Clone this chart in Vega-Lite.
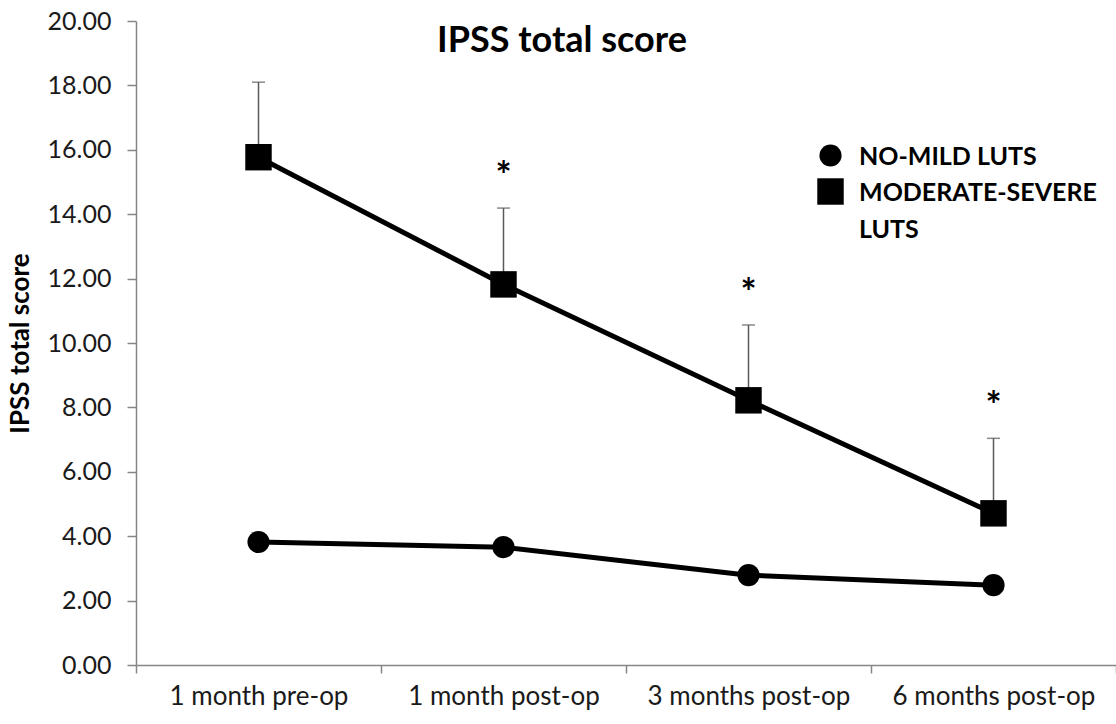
{
  "$schema": "https://vega.github.io/schema/vega-lite/v6.json",
  "width": 980,
  "height": 644,
  "autosize": {"type": "none"},
  "padding": {"left": 136, "top": 21, "right": 0, "bottom": 59},
  "background": "white",
  "config": {"view": {"stroke": null}, "font": "Lato"},
  "title": {
    "text": "IPSS total score",
    "font": "Lato",
    "fontSize": 36,
    "fontWeight": "bold",
    "color": "black",
    "anchor": "middle",
    "dx": -64,
    "dy": 31,
    "baseline": "alphabetic",
    "offset": -48
  },
  "data": {
    "values": [
      {"time": "1 month pre-op", "group": "NO-MILD LUTS", "mean": 3.82, "upper": null, "sig": false},
      {"time": "1 month post-op", "group": "NO-MILD LUTS", "mean": 3.66, "upper": null, "sig": false},
      {"time": "3 months post-op", "group": "NO-MILD LUTS", "mean": 2.79, "upper": null, "sig": false},
      {"time": "6 months post-op", "group": "NO-MILD LUTS", "mean": 2.48, "upper": null, "sig": false},
      {"time": "1 month pre-op", "group": "MODERATE-SEVERE LUTS", "mean": 15.77, "upper": 18.1, "sig": false},
      {"time": "1 month post-op", "group": "MODERATE-SEVERE LUTS", "mean": 11.82, "upper": 14.19, "sig": true},
      {"time": "3 months post-op", "group": "MODERATE-SEVERE LUTS", "mean": 8.22, "upper": 10.56, "sig": true},
      {"time": "6 months post-op", "group": "MODERATE-SEVERE LUTS", "mean": 4.71, "upper": 7.04, "sig": true}
    ]
  },
  "encoding": {
    "x": {
      "field": "time",
      "type": "nominal",
      "sort": ["1 month pre-op", "1 month post-op", "3 months post-op", "6 months post-op"],
      "scale": {"type": "band", "paddingInner": 0, "paddingOuter": 0},
      "axis": {
        "title": null,
        "labelAngle": 0,
        "labelFont": "Lato",
        "labelFontSize": 26,
        "labelColor": "#1a1a1a",
        "labelPadding": 10,
        "labelLimit": 400,
        "tickSize": 8,
        "tickBand": "extent",
        "tickColor": "#868686",
        "domainColor": "#868686",
        "tickWidth": 1.5,
        "domainWidth": 1.5
      }
    }
  },
  "layer": [
    {
      "transform": [{"filter": "datum.upper != null"}],
      "mark": {"type": "rule", "color": "#595959", "strokeWidth": 1.5},
      "encoding": {
        "y": {"field": "mean", "type": "quantitative"},
        "y2": {"field": "upper"}
      }
    },
    {
      "transform": [{"filter": "datum.upper != null"}],
      "mark": {"type": "tick", "color": "#595959", "size": 13, "thickness": 1.5, "orient": "horizontal"},
      "encoding": {
        "y": {"field": "upper", "type": "quantitative"}
      }
    },
    {
      "mark": {"type": "line", "color": "black", "strokeWidth": 5},
      "encoding": {
        "y": {"field": "mean", "type": "quantitative"},
        "detail": {"field": "group"}
      }
    },
    {
      "mark": {"type": "point", "filled": true, "opacity": 1, "color": "black"},
      "encoding": {
        "y": {
          "field": "mean",
          "type": "quantitative",
          "scale": {"domain": [0, 20], "nice": false},
          "axis": {
            "title": "IPSS total score",
            "titleFont": "Lato",
            "titleFontSize": 26,
            "titleFontWeight": "bold",
            "titleColor": "black",
            "titlePadding": 14,
            "values": [0, 2, 4, 6, 8, 10, 12, 14, 16, 18, 20],
            "format": ".2f",
            "labelFont": "Lato",
            "labelFontSize": 25,
            "labelColor": "#1a1a1a",
            "labelPadding": 16,
            "tickSize": 9,
            "tickColor": "#868686",
            "domainColor": "#868686",
            "tickWidth": 1.5,
            "domainWidth": 1.5,
            "grid": false
          }
        },
        "shape": {
          "field": "group",
          "type": "nominal",
          "scale": {"domain": ["NO-MILD LUTS", "MODERATE-SEVERE LUTS"], "range": ["circle", "square"]},
          "legend": {
            "title": null,
            "orient": "none",
            "legendX": 681,
            "legendY": 122,
            "padding": 0,
            "symbolFillColor": "black",
            "symbolStrokeWidth": 0,
            "labelFont": "Lato",
            "labelFontSize": 25,
            "labelFontWeight": "bold",
            "labelColor": "black",
            "labelOffset": 15,
            "rowPadding": 8,
            "labelBaseline": "alphabetic",
            "labelLimit": 400,
            "labelExpr": "datum.label == 'MODERATE-SEVERE LUTS' ? ['MODERATE-SEVERE', 'LUTS'] : datum.label",
            "encoding": {"labels": {"lineHeight": {"value": 37}, "dy": {"value": 9}}}
          }
        },
        "size": {
          "field": "group",
          "type": "nominal",
          "scale": {"domain": ["NO-MILD LUTS", "MODERATE-SEVERE LUTS"], "range": [490, 700]}
        }
      }
    },
    {
      "transform": [{"filter": "datum.sig"}],
      "mark": {"type": "text", "text": "*", "fontSize": 38, "fontWeight": "bold", "color": "black", "dy": -30, "font": "Lato"},
      "encoding": {
        "y": {"field": "upper", "type": "quantitative"}
      }
    }
  ]
}
